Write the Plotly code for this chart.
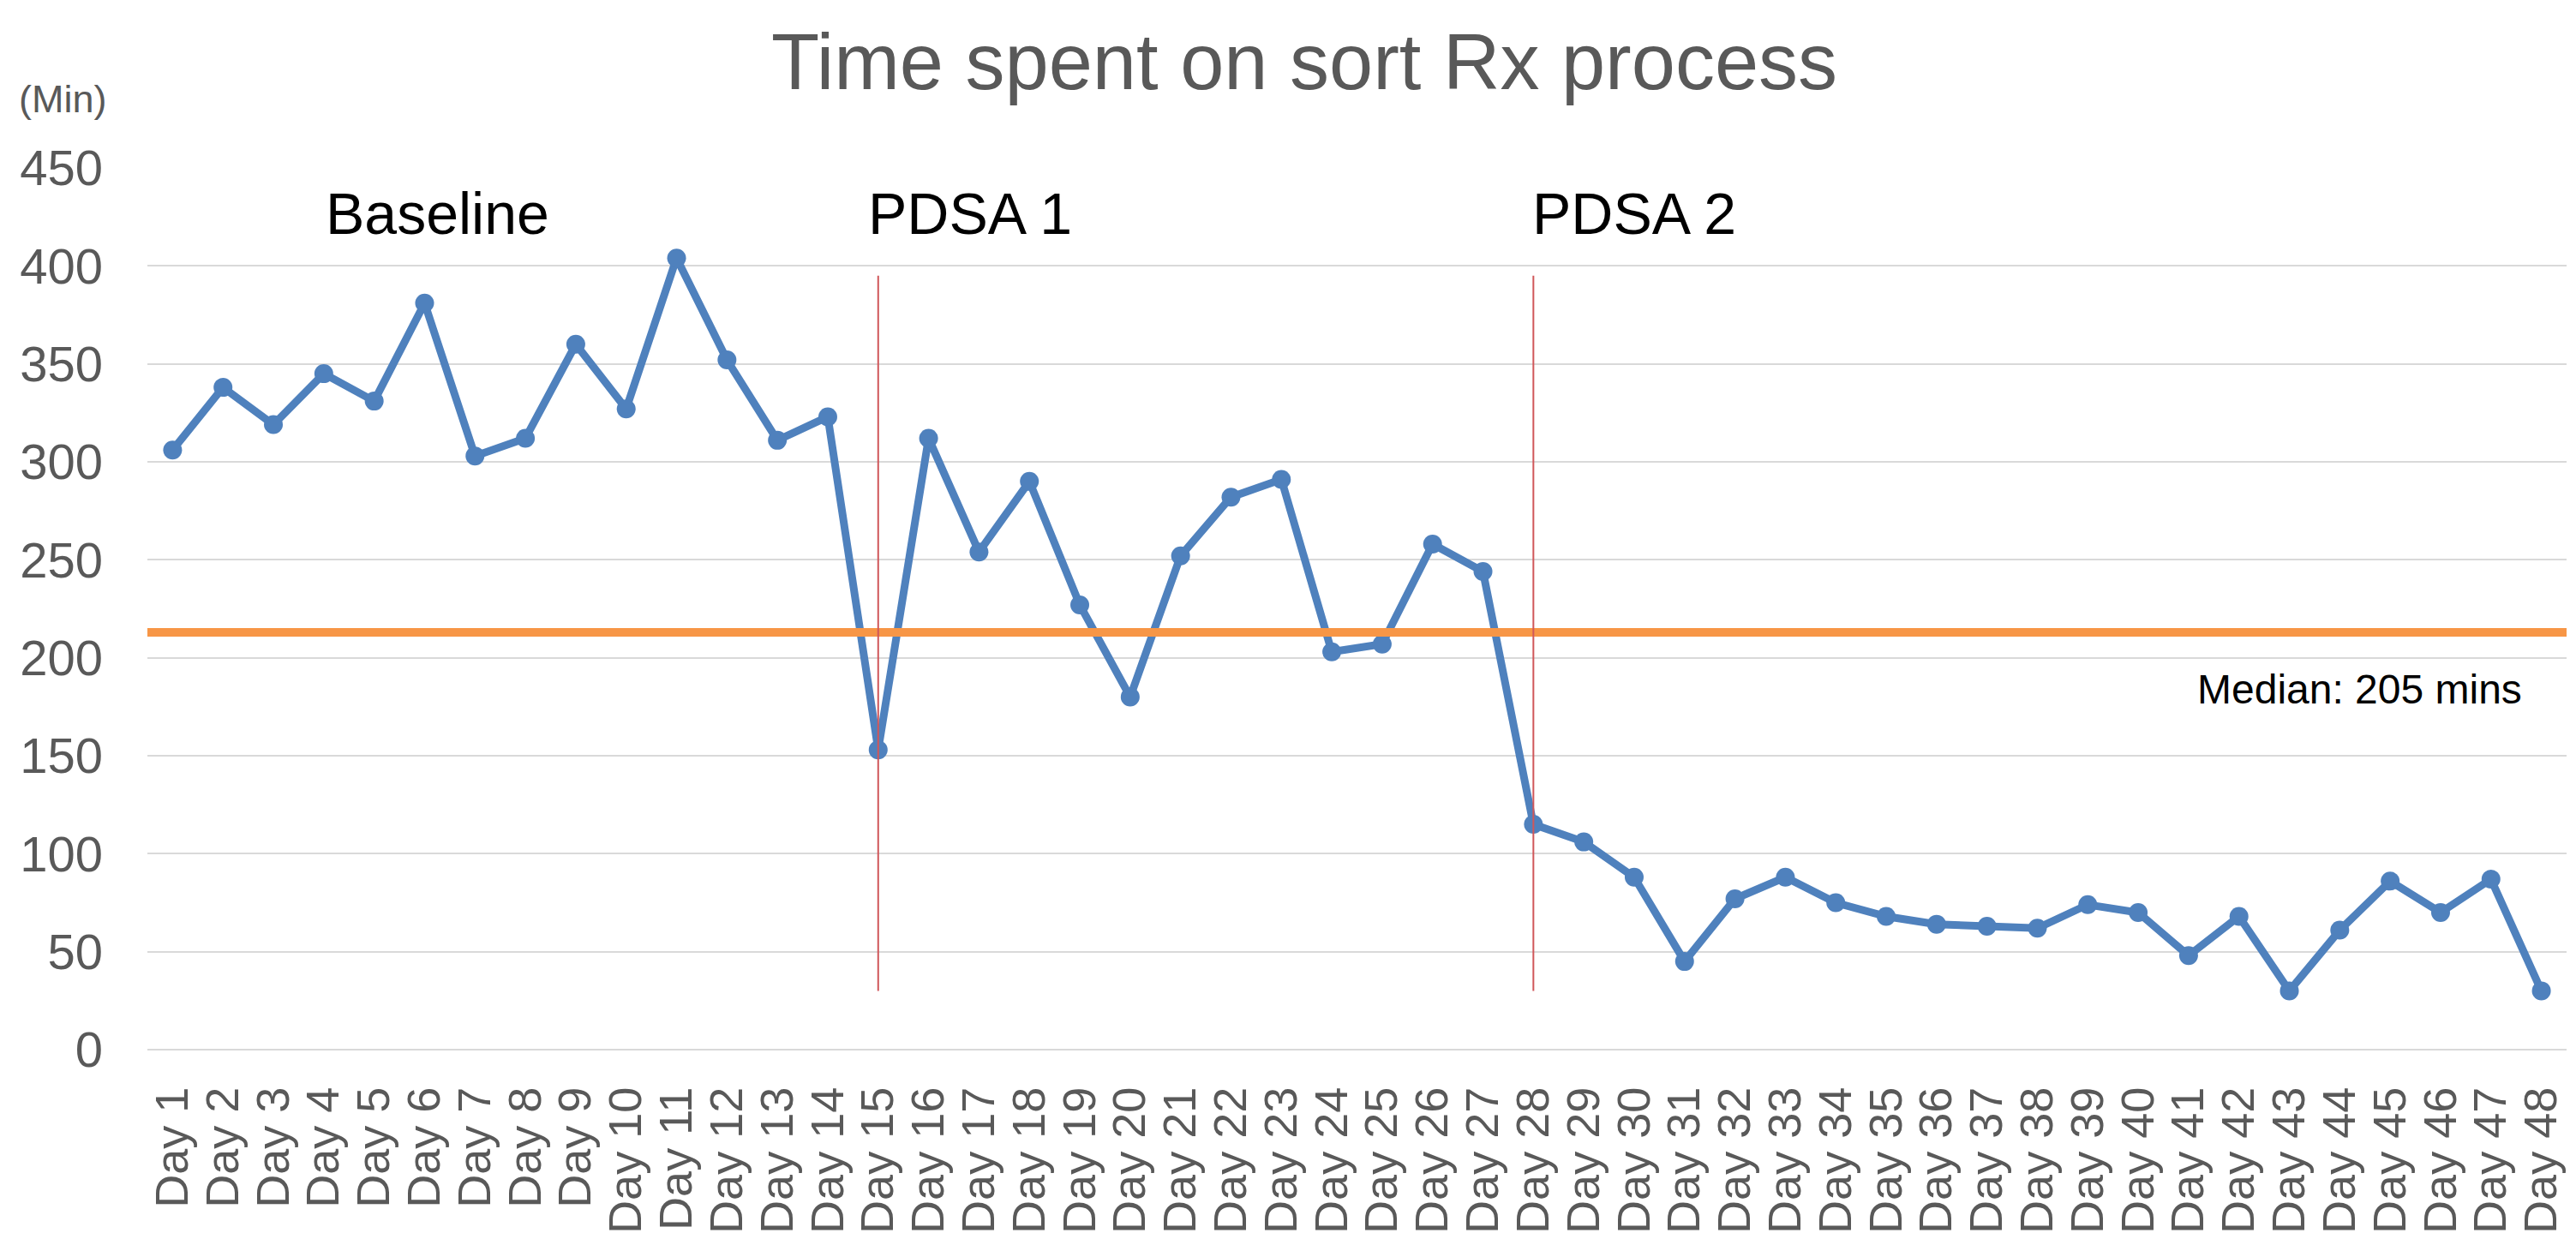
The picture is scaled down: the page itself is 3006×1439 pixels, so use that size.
import plotly.graph_objects as go

# ---- data ----
days = [f"Day {i}" for i in range(1, 49)]
minutes = [306, 338, 319, 345, 331, 381, 303, 312, 360, 327, 404, 352, 311, 323,
           153, 312, 254, 290, 227, 180, 252, 282, 291, 203, 207, 258, 244,
           115, 106, 88, 45, 77, 88, 75, 68, 64, 63, 62, 74, 70, 48, 68, 30, 61, 86, 70, 87, 30]
median_line_value = 213
median_label = "Median: 205 mins"
phase_names = ["Baseline", "PDSA 1", "PDSA 2"]
phase_boundaries = ["Day 15", "Day 28"]
phase_line_span = [30, 395]
y_ticks = [0, 50, 100, 150, 200, 250, 300, 350, 400, 450]

FONT = "Liberation Sans, Arial, sans-serif"
GRAY = "#595959"

# page body has an 8px default margin; figure is sized to fill the rest
W, H = 2998, 1431

fig = go.Figure()
fig.add_trace(go.Scatter(
    x=days, y=minutes, mode="lines+markers",
    line=dict(color="#4F81BD", width=9),
    marker=dict(color="#4F81BD", size=22),
    showlegend=False, hoverinfo="x+y"))

shapes = [dict(type="line", xref="paper", yref="y", x0=0, x1=1,
               y0=median_line_value, y1=median_line_value,
               line=dict(color="#F79646", width=10), layer="above")]
for d in phase_boundaries:
    xi = days.index(d)
    shapes.append(dict(type="line", xref="x", yref="y", x0=xi, x1=xi,
                       y0=phase_line_span[0], y1=phase_line_span[1],
                       line=dict(color="#D0575A", width=2), layer="above"))

annotations = []
phase_label_x = [5.26, 15.82, 29.0]
for name, xp in zip(phase_names, phase_label_x):
    annotations.append(dict(text=name, x=xp, y=427, xref="x", yref="y",
                            showarrow=False, xanchor="center", yanchor="middle",
                            font=dict(family=FONT, size=68, color="#000000")))
annotations.append(dict(text=median_label, x=0.9146, y=184, xref="paper", yref="y",
                        showarrow=False, xanchor="center", yanchor="middle",
                        font=dict(family=FONT, size=48, color="#000000")))
annotations.append(dict(text="(Min)", x=-0.035, y=1.078, xref="paper", yref="paper",
                        showarrow=False, xanchor="center", yanchor="middle",
                        font=dict(family=FONT, size=45, color=GRAY)))

fig.update_layout(
    width=W, height=H,
    margin=dict(l=164, r=11, t=188, b=214, autoexpand=False),
    paper_bgcolor="white", plot_bgcolor="white",
    title=dict(text="Time spent on sort Rx process", x=1514 / W, xanchor="center",
               xref="container", y=1 - 64 / H, yref="container", yanchor="middle",
               font=dict(family=FONT, size=92, color=GRAY)),
    shapes=shapes, annotations=annotations,
    xaxis=dict(type="category", categoryorder="array", categoryarray=days,
               tickmode="array", tickvals=days, ticktext=days,
               range=[-0.5, len(days) - 0.5], showgrid=False, showline=False,
               zeroline=False, ticks="", tickangle=-90, automargin=False,
               ticklabelstandoff=32,
               tickfont=dict(family=FONT, size=54, color=GRAY)),
    yaxis=dict(range=[0, 450], tickvals=y_ticks, showgrid=True,
               gridcolor="#D9D9D9", gridwidth=2, zeroline=True,
               zerolinecolor="#D9D9D9", zerolinewidth=2, showline=False,
               ticks="", automargin=False, ticklabelstandoff=51,
               tickfont=dict(family=FONT, size=58, color=GRAY)),
)

fig.write_html("out.html")
